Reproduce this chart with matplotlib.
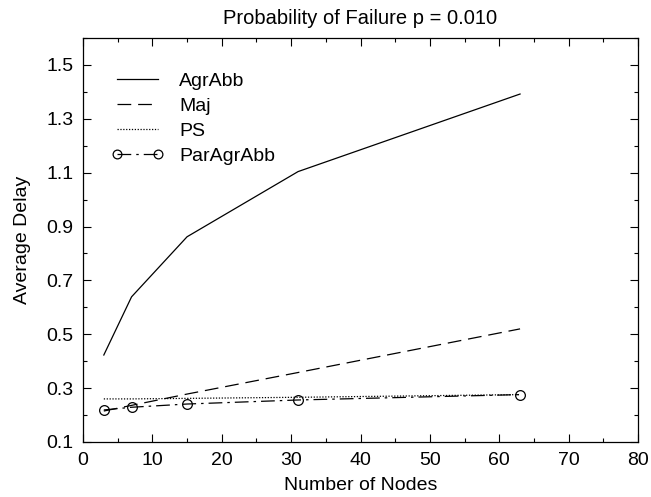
import matplotlib
matplotlib.use("Agg")
import matplotlib.pyplot as plt
from matplotlib.ticker import MultipleLocator

plt.rcParams['font.family'] = ['Liberation Sans', 'DejaVu Sans']

nodes = [3, 7, 15, 31, 63]
agrabb = [0.423, 0.639, 0.862, 1.104, 1.392]
maj = [0.215, 0.236, 0.278, 0.358, 0.520]
ps = [0.260, 0.260, 0.262, 0.266, 0.276]
paragrabb = [0.219, 0.229, 0.241, 0.256, 0.276]

fig = plt.figure(figsize=(6.51, 4.97), dpi=100)
ax = fig.add_axes([83/651, 1-442/497, (638-83)/651, (442-38)/497])

ax.plot(nodes, agrabb, color='black', lw=0.9, ls='-', label='AgrAbb')
ax.plot(nodes, maj, color='black', lw=0.9, ls=(0, (11, 5.5)), label='Maj')
ax.plot(nodes, ps, color='black', lw=0.9, ls=(0, (1, 1.3)), label='PS')
ax.plot(nodes, paragrabb, color='black', lw=0.9, ls=(0, (11, 4, 2, 4)),
        marker='o', ms=7, mfc='none', mec='black', mew=0.9, label='ParAgrAbb')

ax.set_xlim(0, 80)
ax.set_ylim(0.1, 1.6)
ax.xaxis.set_major_locator(MultipleLocator(10))
ax.xaxis.set_minor_locator(MultipleLocator(5))
ax.set_yticks([0.1, 0.3, 0.5, 0.7, 0.9, 1.1, 1.3, 1.5])
ax.yaxis.set_minor_locator(MultipleLocator(0.1))
ax.tick_params(which='both', direction='in', top=True, right=True, labelsize=14, width=0.8)
ax.tick_params(which='major', length=6)
ax.tick_params(which='minor', length=3)
ax.tick_params(axis='x', pad=7)
ax.tick_params(axis='y', pad=7)
for s in ax.spines.values():
    s.set_linewidth(0.9)

ax.set_xlabel('Number of Nodes', fontsize=14, labelpad=6)
ax.set_ylabel('Average Delay', fontsize=14, labelpad=11)
ax.set_title('Probability of Failure p = 0.010', fontsize=14.5, pad=10)

leg = ax.legend(loc='upper left', bbox_to_anchor=(-6/555, 1.0), frameon=False,
                fontsize=14, handlelength=2.7, handletextpad=0.8,
                labelspacing=0.38, borderaxespad=1.35,
                numpoints=2, markerscale=0.9)

fig.savefig('out.png', dpi=100)
